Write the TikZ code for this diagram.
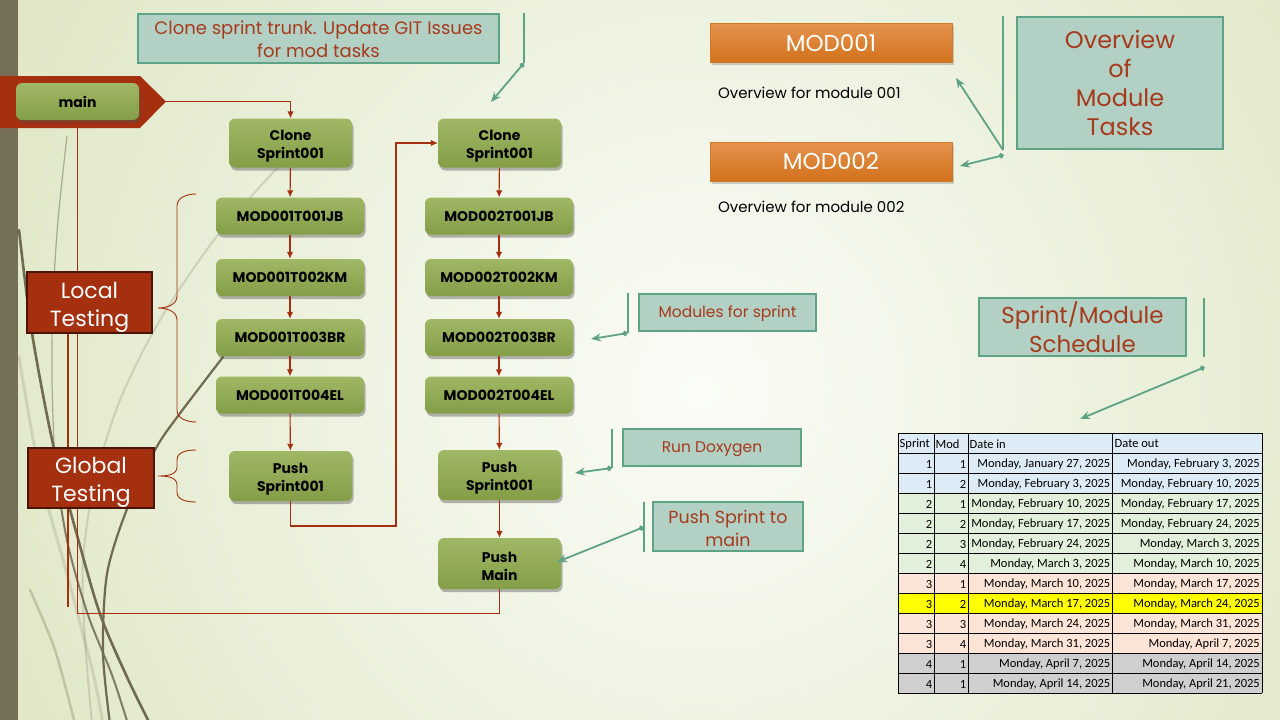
\documentclass[tikz,border=0pt]{standalone}
\usepackage{fontspec}
\setmainfont{Poppins}
\newfontfamily\tabfont{Carlito}
\usetikzlibrary{arrows.meta,shadows,calc}

\definecolor{bgin}{HTML}{FBFCF7}
\definecolor{bgout}{HTML}{DFE7C6}
\definecolor{band}{HTML}{766F58}
\definecolor{rust}{HTML}{A5300F}
\definecolor{rustdark}{HTML}{4A1408}
\definecolor{gtop}{HTML}{A0B865}
\definecolor{gbot}{HTML}{849D47}
\definecolor{teal}{HTML}{5EA386}
\definecolor{tealfill}{HTML}{B3D0C4}
\definecolor{ctext}{HTML}{A63A1C}
\definecolor{otop}{HTML}{E5934F}
\definecolor{obot}{HTML}{D2711A}
\definecolor{oborder}{HTML}{D07A28}
\definecolor{grass}{HTML}{6F6A50}
\definecolor{tblue}{HTML}{DDEBF7}
\definecolor{tgreen}{HTML}{E2EFDA}
\definecolor{tpeach}{HTML}{FCE4D6}
\definecolor{tyellow}{HTML}{FFFF00}
\definecolor{tgray}{HTML}{D0CECE}

\newcommand{\lift}[1]{\rule{0pt}{#1}}

\tikzset{
  gnode/.style={rounded corners=6pt, top color=gtop, bottom color=gbot, draw=none,
    align=center, inner sep=0pt, font=\bfseries\fontsize{14}{18}\selectfont,
    drop shadow={shadow xshift=1.5pt, shadow yshift=-3pt, opacity=0.4, fill=black!70}},
  widebox/.style={gnode, minimum width=148pt, minimum height=37pt},
  tallbox/.style={gnode, minimum width=123pt, minimum height=49pt},
  rarr/.style={draw=rust, line width=1.1pt, -{Latex[length=7pt,width=6.5pt]}},
  rline/.style={draw=rust, line width=1.1pt},
  tbar/.style={draw=teal, line width=1.8pt},
  tarr/.style={draw=teal, line width=1.8pt, {Diamond[length=6pt,width=6pt]}-{Stealth[length=10pt,width=8pt]}},
  tarrn/.style={draw=teal, line width=1.8pt, -{Stealth[length=10pt,width=8pt]}},
  callbox/.style={draw=teal, line width=2.2pt, fill=tealfill, text=ctext, align=center, inner sep=0pt},
  testbox/.style={draw=rustdark, line width=2pt, fill=rust, text=white, align=center, inner sep=0pt,
    font=\fontsize{22}{28}\selectfont},
  modbox/.style={draw=oborder, line width=0.8pt, top color=otop, bottom color=obot, text=white,
    font=\fontsize{23}{28}\selectfont, minimum width=242pt, minimum height=39pt, inner sep=0pt,
    drop shadow={shadow xshift=1.5pt, shadow yshift=-2.5pt, opacity=0.3, fill=black!60}},
  cell/.style={font=\tabfont\fontsize{12.5}{14}\selectfont, inner sep=0pt},
  grassline/.style={draw=grass, line cap=round},
}

\begin{document}
\begin{tikzpicture}[x=1pt,y=-1pt]
\useasboundingbox (0,0) rectangle (1280,720);
% background
\fill[bgout] (0,0) rectangle (1280,720);
\begin{scope}
\clip (0,0) rectangle (1280,720);
\shade[inner color=bgin, outer color=bgout] (700,390) circle[radius=780];
\end{scope}
\fill[band] (0,0) rectangle (18,720);

% decorative grass
\draw[grassline, line width=2.6pt] plot[smooth] coordinates {(19,230) (32,333) (53,444) (77,535) (100,614) (127,677) (150,724)};
\draw[grassline, line width=2.2pt] plot[smooth] coordinates {(223,357) (175,420) (155,450) (127,509) (107,574) (103,653) (110,724)};
\draw[grassline, line width=2pt, opacity=0.85] plot[smooth] coordinates {(55,470) (68,545) (88,615) (112,675) (128,724)};
\draw[grassline, line width=1.2pt, opacity=0.5] plot[smooth] coordinates {(67,136) (58,220) (53,300) (52,380) (55,470)};
\draw[grassline, line width=3pt, opacity=0.18] plot[smooth] coordinates {(19,357) (40,475) (67,574) (93,673) (103,724)};
\draw[grassline, line width=2pt, opacity=0.22] plot[smooth] coordinates {(280,165) (217,236) (160,320) (120,400) (95,480) (83,560) (85,640) (92,724)};
\draw[grassline, line width=2.4pt, opacity=0.3] plot[smooth] coordinates {(30,590) (55,650) (75,724)};

% main banner
\fill[rust] (0,76) -- (140,76) -- (166,101.5) -- (140,128) -- (0,128) -- cycle;
\coordinate (bantip) at (166,101.5);
\node[gnode, minimum width=123pt, minimum height=37pt, font=\bfseries\fontsize{14}{18}\selectfont] (main) at (77.5,101.5) {main};

% column 1
\node[tallbox] (c1) at (290.5,143) {\lift{16pt}Clone\\Sprint001};
\node[widebox] (m11) at (290,216) {MOD001T001JB};
\node[widebox] (m12) at (290,277.5) {MOD001T002KM};
\node[widebox] (m13) at (290,337.5) {MOD001T003BR};
\node[widebox] (m14) at (290,395) {MOD001T004EL};
\node[tallbox, minimum height=50pt] (p1) at (290.5,476) {\lift{16pt}Push\\Sprint001};

% column 2
\node[tallbox] (c2) at (499.5,143) {\lift{16pt}Clone\\Sprint001};
\node[widebox] (m21) at (499,216) {MOD002T001JB};
\node[widebox] (m22) at (499,277.5) {MOD002T002KM};
\node[widebox] (m23) at (499,337.5) {MOD002T003BR};
\node[widebox] (m24) at (499,395) {MOD002T004EL};
\node[tallbox, minimum height=50pt] (p2) at (499.5,475) {\lift{16pt}Push\\Sprint001};
\node[tallbox, minimum height=51pt] (pm) at (499.5,563.5) {\lift{16pt}Push\\Main};

% red connectors
\draw[rarr] (bantip) -| (c1.north);
\draw[rarr] (c1) -- (m11);
\draw[rarr] (m11) -- (m12);
\draw[rarr] (m12) -- (m13);
\draw[rarr] (m13) -- (m14);
\draw[rarr] (m14) -- (p1);
\coordinate (jog) at (396,526);
\draw[rarr] (p1.south) |- (jog) |- (c2.west);
\draw[rarr] (c2) -- (m21);
\draw[rarr] (m21) -- (m22);
\draw[rarr] (m22) -- (m23);
\draw[rarr] (m23) -- (m24);
\draw[rarr] (m24) -- (p2);
\draw[rarr] (p2) -- (pm);
\draw[rarr] (pm.south) -- ++(0,24) -| (main.south);
\coordinate (stubtop) at (68,333);
\coordinate (stubbot) at (68,607);
\draw[rline] (stubtop) -- (stubbot);

% testing labels
\node[testbox, minimum width=125pt, minimum height=61pt] (lt) at (89.5,302.5) {\lift{25pt}Local\\Testing};
\node[testbox, minimum width=126pt, minimum height=60pt] (gt) at (91,478) {\lift{25pt}Global\\Testing};

% braces
\draw[rust, line width=0.9pt] (196,194) to[out=180,in=90] (177,206) -- (177,296) to[out=-90,in=0] (158,308)
  to[out=0,in=90] (177,320) -- (177,410) to[out=-90,in=180] (196,422);
\draw[rust, line width=0.9pt] (196,450) to[out=180,in=90] (177,460) -- (177,467) to[out=-90,in=0] (158,476)
  to[out=0,in=90] (177,485) -- (177,492) to[out=-90,in=180] (196,502);

% callout: clone sprint trunk
\node[callbox, minimum width=361pt, minimum height=49pt, font=\fontsize{18}{23}\selectfont] (cl1) at (318.5,38.5) {\lift{15pt}Clone sprint trunk. Update GIT Issues\\for mod tasks};
\coordinate (cl1top) at (524,13);
\coordinate (cl1d) at (524,63);
\coordinate (cl1a) at (491,102);
\draw[tbar] (cl1top) -- (cl1d);
\draw[tarr] (cl1d) -- (cl1a);

% module overview
\node[modbox] (mod1) at (831,43) {MOD001};
\node[modbox] (mod2) at (831,161.5) {MOD002};
\node[anchor=west, inner sep=0pt, font=\fontsize{15}{18}\selectfont] (ov1) at (718,93) {Overview for module 001};
\node[anchor=west, inner sep=0pt, font=\fontsize{15}{18}\selectfont] (ov2) at (718,207) {Overview for module 002};

\node[callbox, minimum width=206pt, minimum height=132pt, font=\fontsize{24}{29}\selectfont] (omt) at (1120,83) {\lift{19pt}Overview\\of\\Module\\Tasks};
\coordinate (omttop) at (1003,16);
\coordinate (omtbot) at (1003,150);
\coordinate (omtd) at (1004,155);
\coordinate (omta1) at (956,78);
\coordinate (omta2) at (960,166);
\draw[tbar] (omttop) -- (omtbot);
\draw[tarrn] (omtbot) -- (omta1);
\draw[tarr] (omtd) -- (omta2);

% modules for sprint
\node[callbox, minimum width=177pt, minimum height=37pt, font=\fontsize{15.5}{19}\selectfont] (mfs) at (727.5,312.5) {\lift{15pt}Modules for sprint};
\coordinate (mfstop) at (628,293);
\coordinate (mfsd) at (628,333);
\coordinate (mfsa) at (591,339);
\draw[tbar] (mfstop) -- (mfsd);
\draw[tarr] (mfsd) -- (mfsa);

% run doxygen
\node[callbox, minimum width=178pt, minimum height=37pt, font=\fontsize{15.5}{19}\selectfont] (rd) at (712,447.5) {\lift{15pt}Run Doxygen};
\coordinate (rdtop) at (612,429);
\coordinate (rdd) at (612,468);
\coordinate (rda) at (575,473);
\draw[tbar] (rdtop) -- (rdd);
\draw[tarr] (rdd) -- (rda);

% push sprint to main
\node[callbox, minimum width=150pt, minimum height=49pt, font=\fontsize{17.5}{23}\selectfont] (psm) at (728,526.5) {\lift{17pt}Push Sprint to\\main};
\coordinate (psmtop) at (644,502);
\coordinate (psmbot) at (644,552);
\coordinate (psmd) at (644,527);
\coordinate (psma) at (557,562);
\draw[tbar] (psmtop) -- (psmbot);
\draw[tarr] (psmd) -- (psma);

% sprint/module schedule
\node[callbox, minimum width=207pt, minimum height=58pt, font=\fontsize{23}{29}\selectfont] (sms) at (1082.5,327) {\lift{18pt}Sprint/Module\\Schedule};
\coordinate (smstop) at (1204,298);
\coordinate (smsbot) at (1204,357);
\coordinate (smsd) at (1205,367);
\coordinate (smsa) at (1080,419);
\draw[tbar] (smstop) -- (smsbot);
\draw[tarr] (smsd) -- (smsa);

% schedule table
\fill[tblue] (898,433) rectangle (1262,453);
\node[cell, anchor=west] (h1) at (899.5,444) {Sprint};
\node[cell, anchor=west] (h2) at (935.5,444) {Mod};
\node[cell, anchor=west] (h3) at (969.5,444) {Date in};
\node[cell, anchor=west] (h4) at (1114.5,444) {Date out};
\foreach \s/\m/\din/\dout/\c [count=\i from 0] in {
1/1/{Monday, January 27, 2025}/{Monday, February 3, 2025}/tblue,
1/2/{Monday, February 3, 2025}/{Monday, February 10, 2025}/tblue,
2/1/{Monday, February 10, 2025}/{Monday, February 17, 2025}/tgreen,
2/2/{Monday, February 17, 2025}/{Monday, February 24, 2025}/tgreen,
2/3/{Monday, February 24, 2025}/{Monday, March 3, 2025}/tgreen,
2/4/{Monday, March 3, 2025}/{Monday, March 10, 2025}/tgreen,
3/1/{Monday, March 10, 2025}/{Monday, March 17, 2025}/tpeach,
3/2/{Monday, March 17, 2025}/{Monday, March 24, 2025}/tyellow,
3/3/{Monday, March 24, 2025}/{Monday, March 31, 2025}/tpeach,
3/4/{Monday, March 31, 2025}/{Monday, April 7, 2025}/tpeach,
4/1/{Monday, April 7, 2025}/{Monday, April 14, 2025}/tgray,
4/1/{Monday, April 14, 2025}/{Monday, April 21, 2025}/tgray}
{
  \pgfmathsetmacro\yt{453+20*\i}
  \fill[\c] (898,\yt) rectangle (1262,\yt+20);
  \node[cell, anchor=east] (rs\i) at (932.5,\yt+11) {\s};
  \node[cell, anchor=east] (rm\i) at (966.5,\yt+11) {\m};
  \node[cell, anchor=east] (ri\i) at (1110.5,\yt+11) {\din};
  \node[cell, anchor=east] (ro\i) at (1260,\yt+11) {\dout};
}
\foreach \k in {0,...,13} {
  \draw[black, line width=0.9pt] (898,433+20*\k) -- (1262,433+20*\k);
}
\foreach \xx in {898,934,968,1112,1262} {
  \draw[black, line width=0.9pt] (\xx,433) -- (\xx,693);
}
\end{tikzpicture}
\end{document}
